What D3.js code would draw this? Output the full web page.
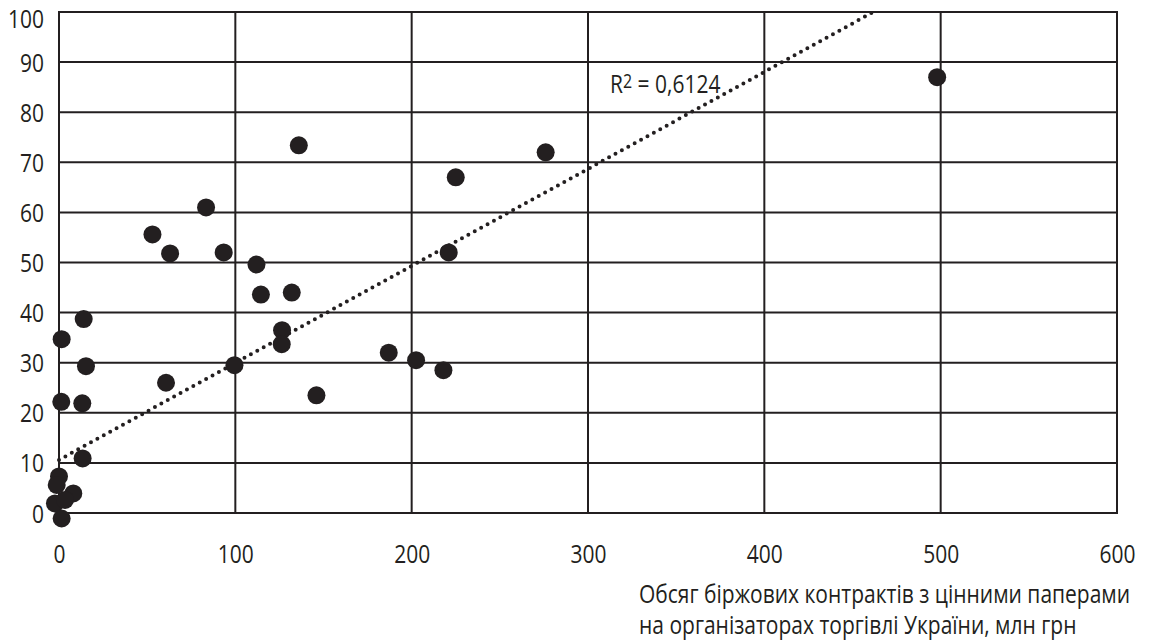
<!DOCTYPE html>
<html>
<head>
<meta charset="utf-8">
<script src="https://cdn.jsdelivr.net/npm/d3@7"></script>
<style>
  body { margin: 0; background: #fff; }
  text { font-family: "Open Sans", "Noto Sans", sans-serif; fill: #231f20; }
</style>
</head>
<body>
<svg id="chart" width="1149" height="642"></svg>
<script>
// Points: volume (x, mln UAH) vs. second indicator (y)
const xValues = [498, 276, 225, 221, 218, 202.5, 187, 146, 136, 132, 126.5, 126.3,
  114.5, 112, 99.5, 93.4, 83.4, 63, 53, 60.7, 1.5, 14, 15.3, 1.3, 13.2, 13.4,
  0, -1.3, 8.1, -2.3, 3.4, 1.5];
const yValues = [87, 72, 67, 52, 28.5, 30.5, 32, 23.5, 73.4, 44, 36.5, 33.7,
  43.6, 49.6, 29.5, 52, 61, 51.8, 55.6, 26, 34.7, 38.7, 29.3, 22.2, 21.9, 10.9,
  7.3, 5.6, 3.9, 1.9, 2.6, -1.1];

// linear trend as drawn: [intercept, slope]
const trend = [10.6, 0.1936];
const rSquared = '0,6124';

const xTicks = [0, 100, 200, 300, 400, 500, 600];
const yTicks = [0, 10, 20, 30, 40, 50, 60, 70, 80, 90, 100];
const xTitle = ['Обсяг біржових контрактів з цінними паперами',
  'на організаторах торгівлі України, млн грн'];

const ink = '#231f20';
const stretch = 'scale(1,1.2)';

const svg = d3.select('#chart');
const plotLeft = 59, plotRight = 1117, plotTop = 12, plotBottom = 513;

const x = d3.scaleLinear().domain([0, 600]).range([plotLeft, plotRight]);
const y = d3.scaleLinear().domain([0, 100]).range([plotBottom, plotTop]);

// grid
const grid = svg.append('g');
grid.selectAll('.hline')
  .data(yTicks)
  .enter()
  .append('line')
  .attr('x1', plotLeft).attr('x2', plotRight)
  .attr('y1', d => y(d)).attr('y2', d => y(d))
  .style('stroke', ink).style('stroke-width', 2);
grid.selectAll('.vline')
  .data(xTicks)
  .enter()
  .append('line')
  .attr('y1', plotTop - 1).attr('y2', plotBottom + 1)
  .attr('x1', d => x(d)).attr('x2', d => x(d))
  .style('stroke', ink).style('stroke-width', 2);

// axes (labels only)
const xAxis = svg.append('g')
  .attr('transform', 'translate(0,' + plotBottom + ')')
  .call(d3.axisBottom(x).tickValues(xTicks).tickSize(0).tickFormat(d3.format('d')));
xAxis.select('.domain').remove();
xAxis.selectAll('text')
  .attr('y', 0).attr('dy', 0)
  .attr('transform', 'translate(0,50) ' + stretch)
  .style('font-size', '21px')
  .style('fill', ink);

const yAxis = svg.append('g')
  .attr('transform', 'translate(' + plotLeft + ',0)')
  .call(d3.axisLeft(y).tickValues(yTicks).tickSize(0).tickFormat(d3.format('d')));
yAxis.select('.domain').remove();
// top label sits a little lower so it stays inside the page
yAxis.selectAll('text')
  .attr('x', 0).attr('dy', 0)
  .attr('transform', d => 'translate(-15,' + (Math.max(y(d), 18) - y(d) + 9) + ') ' + stretch)
  .style('font-size', '21px')
  .style('fill', ink);

// trend line, dotted, clipped at the top border
const xEnd = (100 - trend[0]) / trend[1];
const trendLine = d3.line()
  .x(d => x(d))
  .y(d => y(trend[0] + trend[1] * d));
svg.append('path')
  .datum([0, xEnd])
  .attr('d', trendLine)
  .style('fill', 'none')
  .style('stroke', ink)
  .style('stroke-width', 4)
  .style('stroke-linecap', 'round')
  .style('stroke-dasharray', '0,7.3');

// points
const points = xValues.map((v, i) => ({ x: v, y: yValues[i] }));
svg.append('g')
  .selectAll('circle')
  .data(points)
  .enter()
  .append('circle')
  .attr('cx', d => x(d.x))
  .attr('cy', d => y(d.y))
  .attr('r', 9)
  .style('fill', ink);

// R² label
const r2 = svg.append('text')
  .attr('transform', 'translate(610,93) ' + stretch)
  .style('font-size', '21px');
r2.append('tspan').text('R');
r2.append('tspan').attr('dy', -4.5).style('font-size', '16px').text('2');
r2.append('tspan').attr('dy', 4.5).text(' = ' + rSquared);

// x axis title
svg.append('g')
  .selectAll('text')
  .data(xTitle)
  .enter()
  .append('text')
  .attr('transform', (d, i) => 'translate(639,' + (603 + i * 30.5) + ') ' + stretch)
  .style('font-size', '21px')
  .text(d => d);
</script>
</body>
</html>
